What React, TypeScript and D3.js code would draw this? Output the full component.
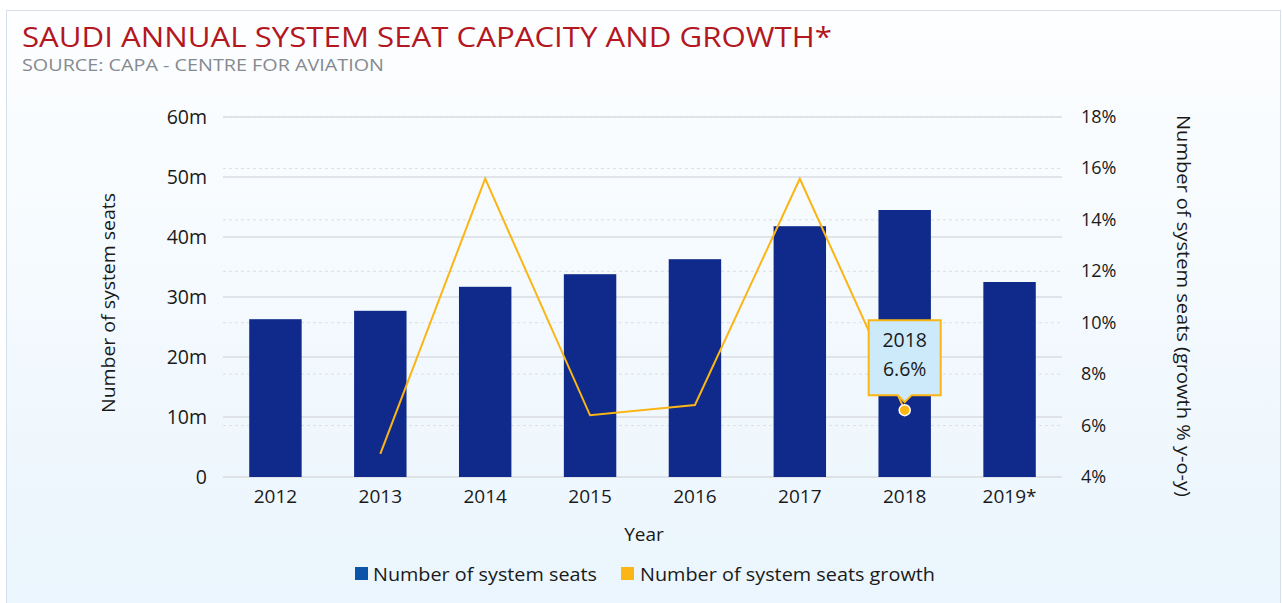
import React from "react";
import * as d3 from "d3";

const years = ["2012", "2013", "2014", "2015", "2016", "2017", "2018", "2019*"];
const seats = [26.3, 27.7, 31.7, 33.8, 36.3, 41.8, 44.5, 32.5];
const growth: (number | null)[] = [null, 4.9, 15.6, 6.4, 6.8, 15.6, 6.6, null];
const leftTicks = [0, 10, 20, 30, 40, 50, 60];
const rightTicks = [4, 6, 8, 10, 12, 14, 16, 18];

const W = 1282, H = 603;
const plotL = 223, plotR = 1062, plotT = 117, plotB = 477;
const FONT = "'Open Sans', Lato, sans-serif";

export default function App() {
  const x = d3.scaleBand<string>().domain(years).range([plotL, plotR]).paddingInner(0.5).paddingOuter(0.25);
  const yL = d3.scaleLinear().domain([0, 60]).range([plotB, plotT]);
  const yR = d3.scaleLinear().domain([4, 18]).range([plotB, plotT]);
  const cx = (y: string) => (x(y) ?? 0) + x.bandwidth() / 2;

  const linePts = years
    .map((y, i) => ({ y, v: growth[i] }))
    .filter((d) => d.v !== null) as { y: string; v: number }[];
  const line = d3.line<{ y: string; v: number }>().x((d) => cx(d.y)).y((d) => yR(d.v));

  const tipYear = "2018";
  const tipIdx = years.indexOf(tipYear);
  const tx = cx(tipYear);
  const ty = yR(growth[tipIdx] as number);
  const boxW = 72, boxH = 75;
  const boxL = tx - boxW / 2, boxT = ty - 90;

  return (
    <svg width={W} height={H} style={{ position: "absolute", left: 0, top: 0 }} fontFamily={FONT}>
      <defs>
        <linearGradient id="bg" x1="0" y1="0" x2="0" y2="1">
          <stop offset="0%" stopColor="#fdfeff" />
          <stop offset="100%" stopColor="#eaf5fd" />
        </linearGradient>
      </defs>
      <rect x={0} y={0} width={W} height={H} fill="#ffffff" />
      <rect x={6.5} y={10.5} width={W - 8} height={H} fill="url(#bg)" stroke="#d6dee9" strokeWidth={1} />

      <text x={22} y={47} fontSize={27} fill="#b3171f" textLength={810} lengthAdjust="spacingAndGlyphs">
        SAUDI ANNUAL SYSTEM SEAT CAPACITY AND GROWTH*
      </text>
      <text x={22} y={71} fontSize={16.5} fill="#858a90" textLength={362} lengthAdjust="spacingAndGlyphs">
        SOURCE: CAPA - CENTRE FOR AVIATION
      </text>

      {/* gridlines */}
      {rightTicks.map((t) => (
        <line key={"r" + t} x1={plotL} x2={plotR} y1={yR(t)} y2={yR(t)} stroke="#dcdfe3" strokeDasharray="3,3" strokeWidth={1} />
      ))}
      {leftTicks.map((t) => (
        <line key={"l" + t} x1={plotL} x2={plotR} y1={yL(t)} y2={yL(t)} stroke="#dadde1" strokeWidth={1.5} />
      ))}

      {/* bars */}
      {years.map((y, i) => (
        <rect key={y} x={x(y)} y={yL(seats[i])} width={x.bandwidth()} height={yL(0) - yL(seats[i])} fill="#102a8b" />
      ))}

      {/* line */}
      <path d={line(linePts) ?? ""} fill="none" stroke="#fbb514" strokeWidth={2} />

      {/* left ticks */}
      {leftTicks.map((t) => (
        <text key={"lt" + t} x={207} y={yL(t) + 6.5} fontSize={19.5} textAnchor="end" fill="#1a1a1a">
          {t === 0 ? "0" : `${t}m`}
        </text>
      ))}
      {/* right ticks */}
      {rightTicks.map((t) => (
        <text key={"rt" + t} x={1081} y={yR(t) + 6} fontSize={18} textAnchor="start" fill="#1a1a1a">
          {`${t}%`}
        </text>
      ))}
      {/* x ticks */}
      {years.map((y) => (
        <text key={"xt" + y} x={cx(y)} y={503} fontSize={19} textAnchor="middle" fill="#1a1a1a">
          {y}
        </text>
      ))}

      <text x={644} y={541} fontSize={19} textAnchor="middle" fill="#1a1a1a">Year</text>
      <text transform="translate(115,303) rotate(-90)" fontSize={19} textAnchor="middle" fill="#1a1a1a" textLength={220} lengthAdjust="spacingAndGlyphs">
        Number of system seats
      </text>
      <text transform="translate(1177,115) rotate(90)" fontSize={19} textAnchor="start" fill="#1a1a1a" textLength={382} lengthAdjust="spacingAndGlyphs">
        Number of system seats (growth % y-o-y)
      </text>

      {/* legend */}
      <rect x={355} y={567} width={13} height={13} fill="#0b55a8" />
      <text x={373} y={581} fontSize={19} fill="#1a1a1a" textLength={224} lengthAdjust="spacingAndGlyphs">Number of system seats</text>
      <rect x={621} y={567} width={13} height={13} fill="#fbb514" />
      <text x={640} y={581} fontSize={19} fill="#1a1a1a" textLength={295} lengthAdjust="spacingAndGlyphs">Number of system seats growth</text>

      {/* tooltip */}
      <circle cx={tx} cy={ty} r={5.5} fill="#fbb514" stroke="#ffffff" strokeWidth={1.5} />
      <path
        d={`M${boxL},${boxT} H${boxL + boxW} V${boxT + boxH} H${tx + 7} L${tx},${boxT + boxH + 7} L${tx - 7},${boxT + boxH} H${boxL} Z`}
        fill="#cdeafa"
        stroke="#fbb514"
        strokeWidth={2}
      />
      <text x={tx} y={boxT + 27} fontSize={19.5} textAnchor="middle" fill="#1a1a1a">{tipYear}</text>
      <text x={tx} y={boxT + 56} fontSize={19.5} textAnchor="middle" fill="#1a1a1a">{`${growth[tipIdx]}%`}</text>
    </svg>
  );
}
